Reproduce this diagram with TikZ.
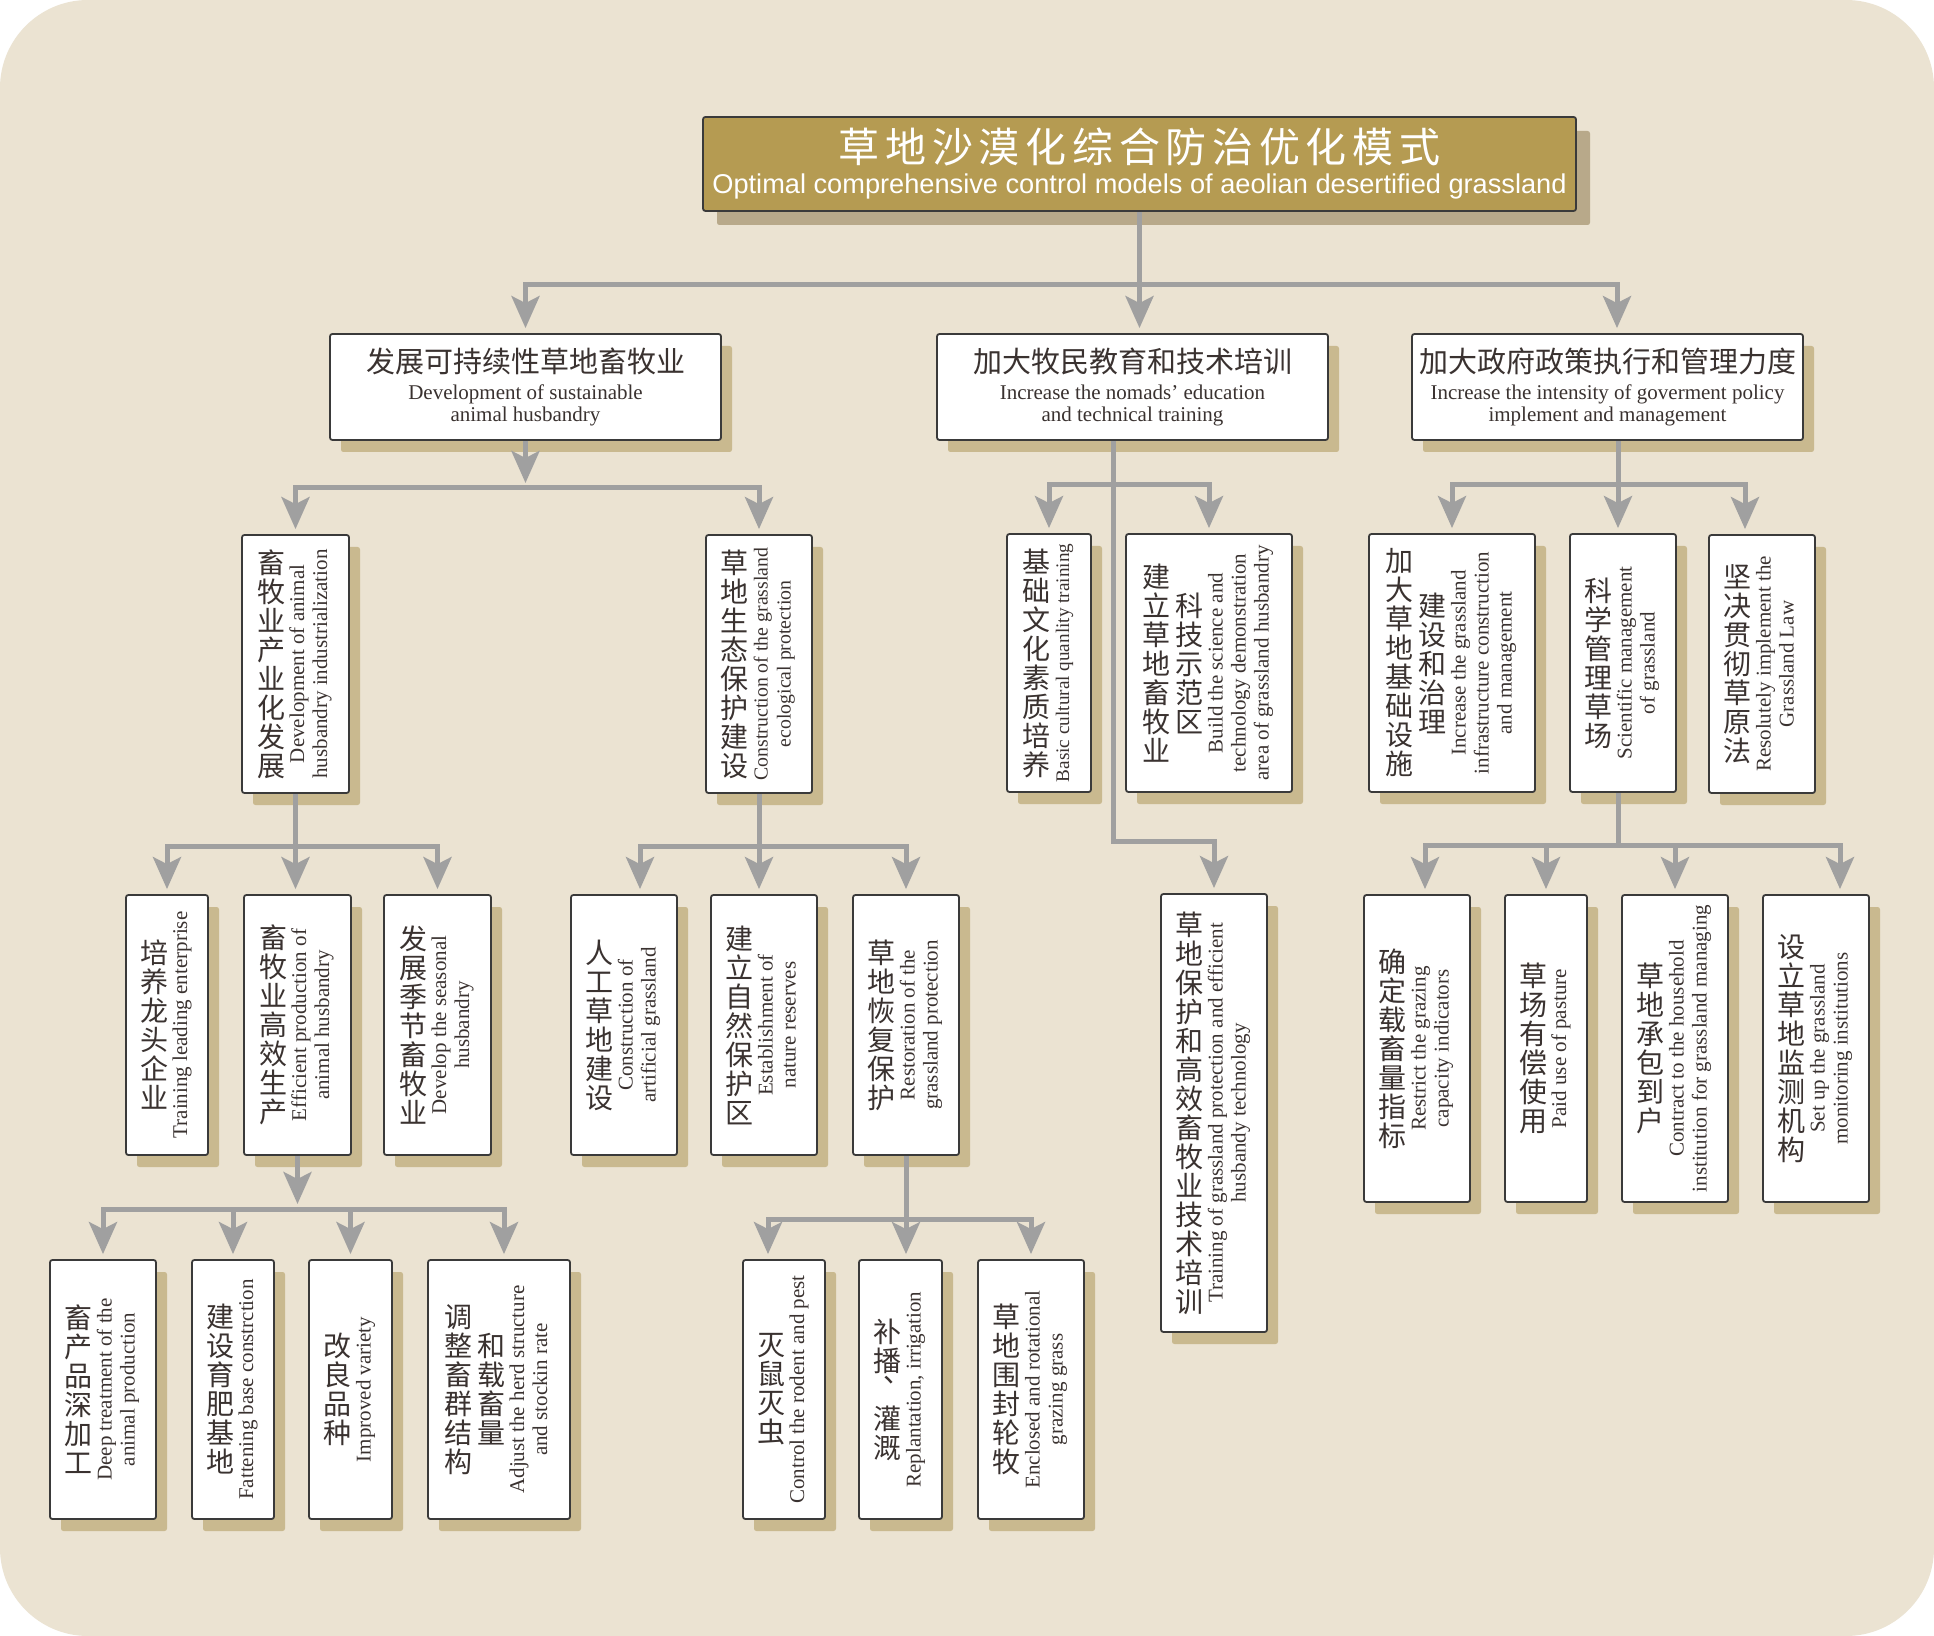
\documentclass[tikz,border=0pt]{standalone}
\usepackage{fontspec}
\usepackage{graphicx}
\setmainfont{Liberation Serif}
\newfontfamily\cjk{Noto Sans CJK SC}
\newfontfamily\titlesf{Liberation Sans}
\usetikzlibrary{arrows.meta,calc}
\definecolor{bgc}{HTML}{EBE3D2}
\definecolor{shc}{HTML}{C9B98F}
\definecolor{tshc}{HTML}{B8A98A}
\definecolor{tfill}{HTML}{B59B52}
\definecolor{lnc}{HTML}{A0A0A0}
\definecolor{bordc}{HTML}{3A3A3A}
\definecolor{txtc}{HTML}{3A3230}
\makeatletter
\newcommand\cjkcol[1]{\vbox{\cjk\fontsize{14}{14.5}\selectfont\lineskiplimit=-100pt\lineskip=0pt\@tfor\cc@t:=#1\do{\hbox to 14pt{\hss\cc@t\hss}}}}
\makeatother
\newcommand\vcn[1]{$\vcenter{\cjkcol{#1}}$}
\newcommand\ven[2][10.5]{$\vcenter{\hbox{\rotatebox{90}{\fontsize{#1}{11.5}\selectfont\begin{tabular}{@{}c@{}}#2\end{tabular}}}}$}
\tikzset{
  box/.style={draw=bordc, line width=0.9pt, fill=white, rounded corners=1.2pt, inner sep=0pt, text=txtc,
    preaction={fill=shc, draw=none, transform canvas={xshift=5.5pt,yshift=-6pt}}},
  tbox/.style={draw=bordc, line width=0.9pt, fill=tfill, rounded corners=1.2pt, inner sep=0pt, text=white,
    preaction={fill=tshc, draw=none, transform canvas={xshift=7pt,yshift=-7pt}}},
  wh/.style 2 args={minimum width=#1*0.5pt, minimum height=#2*0.5pt},
  hfont/.style={font=\fontsize{10.5}{11}\selectfont, align=center},
  ln/.style={draw=lnc, line width=2.5pt},
  arr/.style={ln, -{Stealth[length=16pt,width=14pt,inset=3.5pt]}, shorten >=2.5pt}
}
\begin{document}
\begin{tikzpicture}[x=0.5pt,y=-0.5pt]
\useasboundingbox (0,0) rectangle (1934,1636);
\fill[white] (0,0) rectangle (1934,1636);
\fill[bgc, rounded corners=44pt] (0,0) rectangle (1934,1636);

% title
\node[tbox, wh={873}{94}, font=\titlesf\fontsize{13.6}{15.5}\selectfont, align=center] (T) at (1139.5,164)
  {{\cjk\fontsize{20.5}{20.5}\selectfont\addfontfeatures{LetterSpace=14}草地沙漠化综合防治优化模式\hspace{-2.9pt}}\\Optimal comprehensive control models of aeolian desertified grassland};

% level 1
\node[box, wh={391}{106}, hfont] (A) at (525.5,387)
  {{\cjk\fontsize{14.5}{14.5}\selectfont 发展可持续性草地畜牧业}\\[2.5pt]Development of sustainable\\animal husbandry};
\node[box, wh={391}{106}, hfont] (B) at (1132.5,387)
  {{\cjk\fontsize{14.5}{14.5}\selectfont 加大牧民教育和技术培训}\\[2.5pt]Increase the nomads' education\\and technical training};
\node[box, wh={391}{106}, hfont] (C) at (1607.5,387)
  {{\cjk\fontsize{14.5}{14.5}\selectfont 加大政府政策执行和管理力度}\\[2.5pt]Increase the intensity of goverment policy\\implement and management};

% level 2
\node[box, wh={107}{258}] (A1) at (295.5,664) {\vcn{畜牧业产业化发展}\hspace{1.5pt}\ven{Development of animal\\husbandry industrialization}};
\node[box, wh={106}{258}] (A2) at (759,664) {\vcn{草地生态保护建设}\hspace{1.5pt}\ven[9.9]{Construction of the grassland\\ecological protection}};
\node[box, wh={84}{258}] (B1) at (1049,663) {\vcn{基础文化素质培养}\hspace{1.5pt}\ven[9.6]{Basic cultural quanlity training}};
\node[box, wh={166}{258}] (B2) at (1209,663) {\vcn{建立草地畜牧业}\hspace{2.5pt}\vcn{科技示范区}\hspace{1.5pt}\ven{Build the science and\\technology demonstration\\area of grassland husbandry}};
\node[box, wh={166}{258}] (C1) at (1452,663) {\vcn{加大草地基础设施}\hspace{2.5pt}\vcn{建设和治理}\hspace{1.5pt}\ven{Increase the grassland\\infrastructure construction\\and management}};
\node[box, wh={106}{258}] (C2) at (1623,663) {\vcn{科学管理草场}\hspace{1.5pt}\ven{Scientific management\\of grassland}};
\node[box, wh={106}{258}] (C3) at (1762,664) {\vcn{坚决贯彻草原法}\hspace{1.5pt}\ven{Resolutely implement the\\Grassland Law}};
\node[box, wh={106}{438}] (B3) at (1214,1113) {\vcn{草地保护和高效畜牧业技术培训}\hspace{1.5pt}\ven{Training of grassland protection and efficient\\husbandy technology}};

% level 3
\node[box, wh={82}{260}] (E1) at (167,1025) {\vcn{培养龙头企业}\hspace{1.5pt}\ven{Training leading enterprise}};
\node[box, wh={107}{260}] (E2) at (297.5,1025) {\vcn{畜牧业高效生产}\hspace{1.5pt}\ven{Efficient production of\\animal husbandry}};
\node[box, wh={107}{260}] (E3) at (437.5,1025) {\vcn{发展季节畜牧业}\hspace{1.5pt}\ven{Develop the seasonal\\husbandry}};
\node[box, wh={106}{260}] (F1) at (624,1025) {\vcn{人工草地建设}\hspace{1.5pt}\ven{Construction of\\artificial grassland}};
\node[box, wh={106}{260}] (F2) at (764,1025) {\vcn{建立自然保护区}\hspace{1.5pt}\ven{Establishment of\\nature reserves}};
\node[box, wh={106}{260}] (F3) at (906,1025) {\vcn{草地恢复保护}\hspace{1.5pt}\ven{Restoration of the\\grassland protection}};
\node[box, wh={106}{307}] (D1) at (1417,1048.5) {\vcn{确定载畜量指标}\hspace{1.5pt}\ven{Restrict the grazing\\capacity indicators}};
\node[box, wh={82}{307}] (D2) at (1546,1048.5) {\vcn{草场有偿使用}\hspace{1.5pt}\ven{Paid use of pasture}};
\node[box, wh={106}{307}] (D3) at (1675,1048.5) {\vcn{草地承包到户}\hspace{1.5pt}\ven{Contract to the household\\institution for grassland managing}};
\node[box, wh={106}{307}] (D4) at (1816,1048.5) {\vcn{设立草地监测机构}\hspace{1.5pt}\ven{Set up the grassland\\monitoring institutions}};

% level 4
\node[box, wh={106}{259}] (G1) at (103,1389.5) {\vcn{畜产品深加工}\hspace{1.5pt}\ven{Deep treatment of the\\animal production}};
\node[box, wh={82}{259}] (G2) at (233,1389.5) {\vcn{建设育肥基地}\hspace{1.5pt}\ven{Fattening base constrction}};
\node[box, wh={83}{259}] (G3) at (350.5,1389.5) {\vcn{改良品种}\hspace{1.5pt}\ven{Improved variety}};
\node[box, wh={142}{259}] (G4) at (499,1389.5) {\vcn{调整畜群结构}\hspace{2.5pt}\vcn{和载畜量}\hspace{1.5pt}\ven{Adjust the herd structure\\and stockin rate}};
\node[box, wh={82}{259}] (H1) at (784,1389.5) {\vcn{灭鼠灭虫}\hspace{1.5pt}\ven{Control the rodent and pest}};
\node[box, wh={83}{259}] (H2) at (900.5,1389.5) {\vcn{补播{\hspace{5pt}\raisebox{9pt}{、}\hspace{-5pt}}灌溉}\hspace{1.5pt}\ven{Replantation, irrigation}};
\node[box, wh={106}{259}] (H3) at (1031,1389.5) {\vcn{草地围封轮牧}\hspace{1.5pt}\ven{Enclosed and rotational\\grazing grass}};

% connectors: top
\coordinate (j0) at (1139.5,285);
\draw[ln] (T.south) -- (j0);
\draw[arr] (j0) -| (A.north);
\draw[arr] (j0) -- (j0 |- B.north);
\draw[arr] (j0) -| ([xshift=4.75pt]C.north);
% A
\coordinate (jA) at (525.5,488);
\draw[arr] (A.south) -- (jA);
\draw[arr] (jA) -| (A1.north);
\draw[arr] (jA) -| (A2.north);
% B
\coordinate (jB) at (1113,485);
\coordinate (kB) at (1113,841);
\draw[ln] ([xshift=-9.75pt]B.south) -- (jB);
\draw[arr] (jB) -- (kB) -| (B3.north);
\draw[arr] (jB) -| (B1.north);
\draw[arr] (jB) -| (B2.north);
% C
\coordinate (jC) at (1618,485);
\draw[ln] (C.south -| jC) -- (jC);
\draw[arr] (jC) -| (C1.north);
\draw[arr] (jC) -- (jC |- C2.north);
\draw[arr] (jC) -| ([xshift=-8.5pt]C3.north);
% A1
\coordinate (jA1) at (295.5,846);
\draw[ln] (A1.south) -- (jA1);
\draw[arr] (jA1) -| (E1.north);
\draw[arr] (jA1) -- (jA1 |- E2.north);
\draw[arr] (jA1) -| (E3.north);
% A2
\coordinate (jA2) at (759,846);
\draw[ln] (A2.south) -- (jA2);
\draw[arr] (jA2) -| ([xshift=8pt]F1.north);
\draw[arr] (jA2) -- (jA2 |- F2.north);
\draw[arr] (jA2) -| (F3.north);
% C2
\coordinate (jC2) at (1618,845);
\draw[ln] (C2.south -| jC2) -- (jC2);
\draw[arr] (jC2) -| ([xshift=4pt]D1.north);
\draw[arr] (jC2) -| (D2.north);
\draw[arr] (jC2) -| (D3.north);
\draw[arr] (jC2) -| ([xshift=12pt]D4.north);
% E2
\coordinate (jE2) at (297.5,1209);
\draw[arr] (E2.south) -- (jE2);
\draw[arr] (jE2) -| (G1.north);
\draw[arr] (jE2) -| (G2.north);
\draw[arr] (jE2) -| (G3.north);
\draw[arr] (jE2) -| ([xshift=2.5pt]G4.north);
% F3
\coordinate (jF3) at (906,1219);
\draw[ln] (F3.south) -- (jF3);
\draw[arr] (jF3) -| ([xshift=-8pt]H1.north);
\draw[arr] (jF3) -- (jF3 |- H2.north);
\draw[arr] (jF3) -| (H3.north);
\end{tikzpicture}
\end{document}
